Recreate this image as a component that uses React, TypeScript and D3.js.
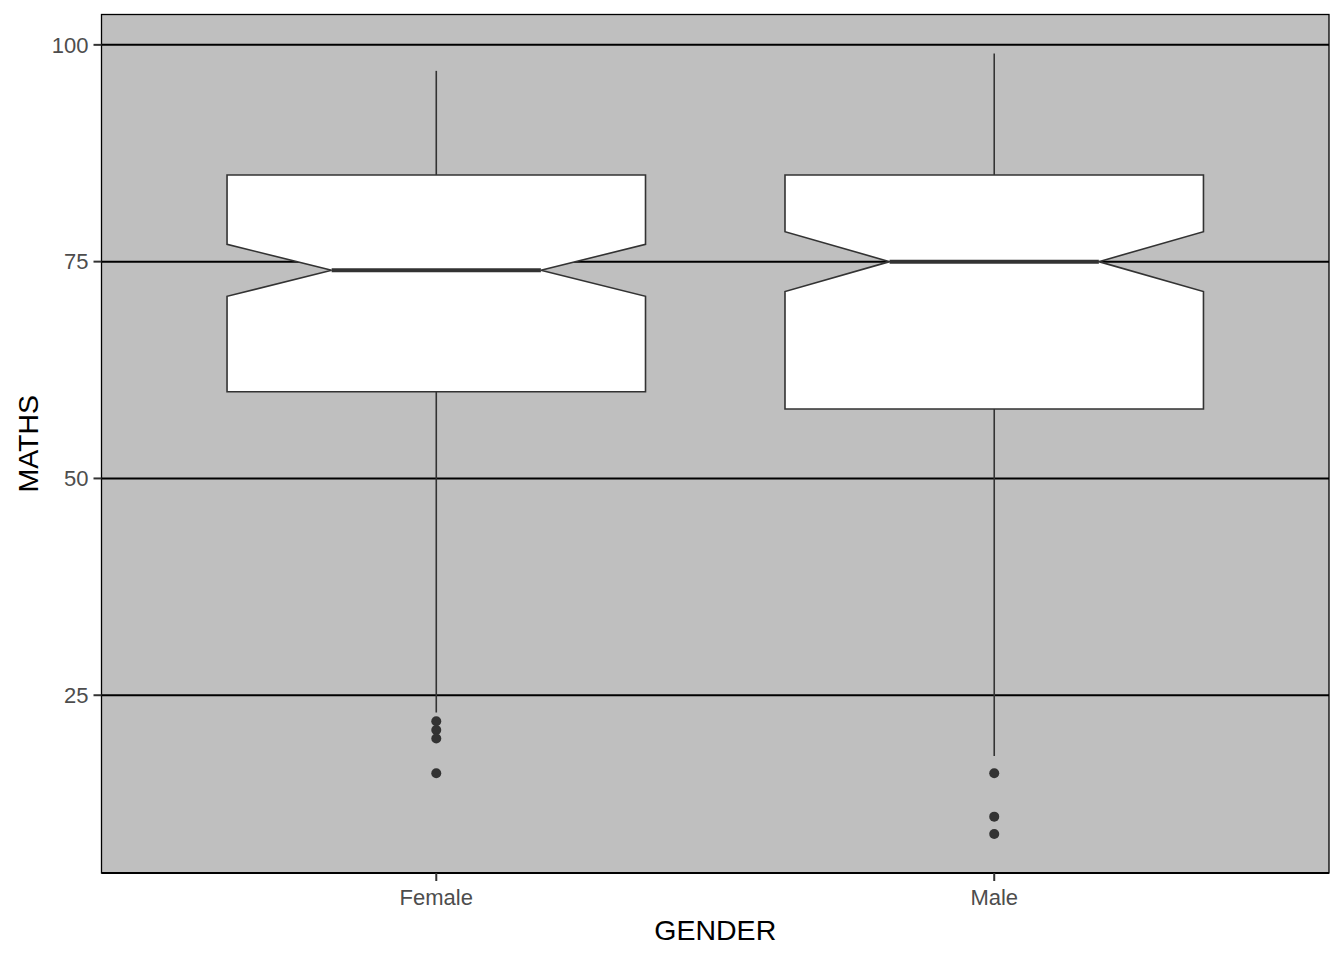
import React, { useEffect, useRef } from 'react';
import * as d3 from 'd3';

// box statistics
const genders = ['Female', 'Male'];
const lowerWhisker = [23, 18];
const q1 = [60, 58];
const medians = [74, 75];
const q3 = [85, 85];
const upperWhisker = [97, 99];
const notchLow = [71.0, 71.55];
const notchHigh = [77.0, 78.45];
const outliers = [
  [22, 21, 20, 16],
  [16, 11, 9]
];
const yTicks = [25, 50, 75, 100];
const yDomain = [4.5, 103.5];

const W = 1344;
const H = 960;
const margin = { top: 14.5, right: 15, bottom: 87, left: 101.5 };
const lineCol = '#333333';
const font = 'Liberation Sans, Arial, sans-serif';

const App = () => {
  const ref = useRef<SVGSVGElement>(null);

  useEffect(() => {
    const svg = d3.select(ref.current);
    svg.selectAll('*').remove();

    const x0 = margin.left;
    const x1 = W - margin.right;
    const y0 = margin.top;
    const y1 = H - margin.bottom;

    const x = d3.scalePoint().domain(genders).range([x0, x1]).padding(0.6);
    const y = d3.scaleLinear().domain(yDomain).range([y1, y0]);
    const boxW = x.step() * 0.75;

    // panel
    svg.append('rect')
      .attr('x', x0).attr('y', y0)
      .attr('width', x1 - x0).attr('height', y1 - y0)
      .attr('fill', '#BFBFBF');

    // horizontal grid
    svg.append('g')
      .selectAll('line')
      .data(yTicks)
      .enter()
      .append('line')
      .attr('x1', x0).attr('x2', x1)
      .attr('y1', d => y(d)).attr('y2', d => y(d))
      .attr('stroke', '#000')
      .attr('stroke-width', 2);

    const boxes = svg.append('g')
      .selectAll('g')
      .data(genders)
      .enter()
      .append('g');

    // whiskers
    boxes.append('line')
      .attr('x1', d => x(d)).attr('x2', d => x(d))
      .attr('y1', (d, i) => y(q3[i])).attr('y2', (d, i) => y(upperWhisker[i]))
      .attr('stroke', lineCol).attr('stroke-width', 1.6);
    boxes.append('line')
      .attr('x1', d => x(d)).attr('x2', d => x(d))
      .attr('y1', (d, i) => y(q1[i])).attr('y2', (d, i) => y(lowerWhisker[i]))
      .attr('stroke', lineCol).attr('stroke-width', 1.6);

    // notched box
    boxes.append('path')
      .attr('d', (d, i) => {
        const cx = x(d);
        const l = cx - boxW / 2, r = cx + boxW / 2;
        const nl = cx - boxW / 4, nr = cx + boxW / 4;
        const p = d3.path();
        p.moveTo(l, y(q1[i]));
        p.lineTo(l, y(notchLow[i]));
        p.lineTo(nl, y(medians[i]));
        p.lineTo(l, y(notchHigh[i]));
        p.lineTo(l, y(q3[i]));
        p.lineTo(r, y(q3[i]));
        p.lineTo(r, y(notchHigh[i]));
        p.lineTo(nr, y(medians[i]));
        p.lineTo(r, y(notchLow[i]));
        p.lineTo(r, y(q1[i]));
        p.closePath();
        return p.toString();
      })
      .attr('fill', '#fff')
      .attr('stroke', lineCol)
      .attr('stroke-width', 1.6);

    // median
    boxes.append('line')
      .attr('x1', d => x(d) - boxW / 4).attr('x2', d => x(d) + boxW / 4)
      .attr('y1', (d, i) => y(medians[i])).attr('y2', (d, i) => y(medians[i]))
      .attr('stroke', lineCol).attr('stroke-width', 4);

    // outliers
    boxes.each(function (d, i) {
      d3.select(this).selectAll('circle')
        .data(outliers[i])
        .enter()
        .append('circle')
        .attr('cx', x(d))
        .attr('cy', v => y(v))
        .attr('r', 5)
        .attr('fill', lineCol);
    });

    // border + axis lines
    svg.append('rect')
      .attr('x', x0).attr('y', y0)
      .attr('width', x1 - x0).attr('height', y1 - y0)
      .attr('fill', 'none')
      .attr('stroke', '#000')
      .attr('stroke-width', 1.3);
    svg.append('line')
      .attr('x1', x0).attr('x2', x1)
      .attr('y1', y1).attr('y2', y1)
      .attr('stroke', '#000').attr('stroke-width', 2);

    // y axis ticks + labels
    const yAx = svg.append('g');
    yAx.selectAll('line')
      .data(yTicks)
      .enter()
      .append('line')
      .attr('x1', x0 - 8).attr('x2', x0)
      .attr('y1', d => y(d)).attr('y2', d => y(d))
      .attr('stroke', '#333').attr('stroke-width', 2);
    yAx.selectAll('text')
      .data(yTicks)
      .enter()
      .append('text')
      .attr('x', x0 - 13)
      .attr('y', d => y(d))
      .attr('dy', '0.35em')
      .attr('text-anchor', 'end')
      .attr('fill', '#4D4D4D')
      .style('font-family', font)
      .style('font-size', '22px')
      .text(d => d);

    // x axis ticks + labels
    const xAx = svg.append('g');
    xAx.selectAll('line')
      .data(genders)
      .enter()
      .append('line')
      .attr('x1', d => x(d)).attr('x2', d => x(d))
      .attr('y1', y1).attr('y2', y1 + 8)
      .attr('stroke', '#333').attr('stroke-width', 2);
    xAx.selectAll('text')
      .data(genders)
      .enter()
      .append('text')
      .attr('x', d => x(d))
      .attr('y', y1 + 32)
      .attr('text-anchor', 'middle')
      .attr('fill', '#4D4D4D')
      .style('font-family', font)
      .style('font-size', '22px')
      .text(d => d);

    // axis titles
    svg.append('text')
      .attr('x', (x0 + x1) / 2)
      .attr('y', 940)
      .attr('text-anchor', 'middle')
      .attr('fill', '#000')
      .style('font-family', font)
      .style('font-size', '28.5px')
      .text('GENDER');
    svg.append('text')
      .attr('transform', `translate(38, ${(y0 + y1) / 2}) rotate(-90)`)
      .attr('text-anchor', 'middle')
      .attr('fill', '#000')
      .style('font-family', font)
      .style('font-size', '28.5px')
      .text('MATHS');
  }, []);

  return (
    <svg
      ref={ref}
      width={W}
      height={H}
      style={{ position: 'absolute', left: 0, top: 0, background: '#fff' }}
    />
  );
};

export default App;
